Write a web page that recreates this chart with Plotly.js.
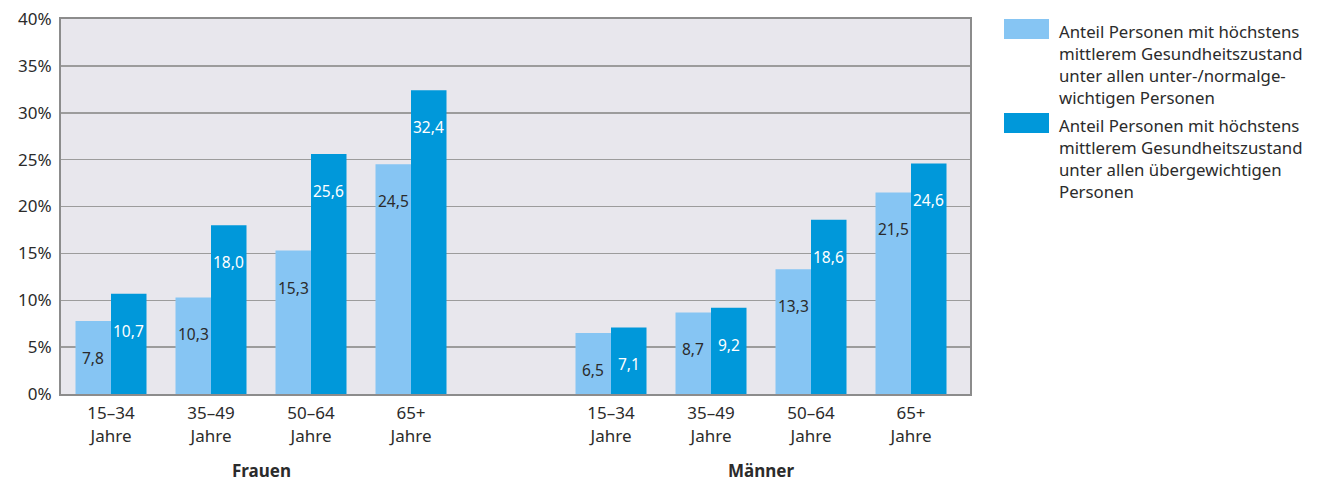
<!DOCTYPE html>
<html>
<head>
<meta charset="utf-8">
<script src="https://cdn.plot.ly/plotly-3.0.1.min.js"></script>
<style>html,body{margin:0;padding:0;background:#fff;}#chart{width:1319px;height:481px;}</style>
</head>
<body>
<div id="chart"></div>
<script>
// Data
const ageGroups = ["15–34<br>Jahre", "35–49<br>Jahre", "50–64<br>Jahre", "65+<br>Jahre"];
const sexes = ["Frauen", "Männer"];
const frauenNormal = [7.8, 10.3, 15.3, 24.5];
const frauenUeber = [10.7, 18.0, 25.6, 32.4];
const maennerNormal = [6.5, 8.7, 13.3, 21.5];
const maennerUeber = [7.1, 9.2, 18.6, 24.6];
const seriesNames = [
  "Anteil Personen mit höchstens<br>mittlerem Gesundheitszustand<br>unter allen unter-/normalge-<br>wichtigen Personen",
  "Anteil Personen mit höchstens<br>mittlerem Gesundheitszustand<br>unter allen übergewichtigen<br>Personen"
];
const yTicks = [0, 5, 10, 15, 20, 25, 30, 35, 40];
const yTickText = ["0%", "5%", "10%", "15%", "20%", "25%", "30%", "35%", "40%"];

// Layout constants
const colLight = "#86c5f3";
const colDark = "#0098da";
const fontFam = "'Noto Sans', 'Open Sans', sans-serif";
const txtCol = "#2b2b2b";
const xPositions = [0, 1, 2, 3, 5, 6, 7, 8];
const tickText = ageGroups.concat(ageGroups);
const normalVals = frauenNormal.concat(maennerNormal);
const ueberVals = frauenUeber.concat(maennerUeber);
const bargap = 0.29;
const half = (1 - bargap) / 4;

const traces = [
  {type: "bar", x: xPositions, y: normalVals, name: seriesNames[0], marker: {color: colLight}, hoverinfo: "y"},
  {type: "bar", x: xPositions, y: ueberVals, name: seriesNames[1], marker: {color: colDark}, hoverinfo: "y"}
];

const fmt = v => v.toFixed(1).replace(".", ",");
const annotations = [];
xPositions.forEach((xp, i) => {
  annotations.push({x: xp - half, y: normalVals[i], xref: "x", yref: "y", text: fmt(normalVals[i]),
    showarrow: false, yanchor: "middle", yshift: -37, font: {family: fontFam, size: 15.5, color: txtCol}});
  annotations.push({x: xp + half, y: ueberVals[i], xref: "x", yref: "y", text: fmt(ueberVals[i]),
    showarrow: false, yanchor: "middle", yshift: -37, font: {family: fontFam, size: 15.5, color: "#ffffff"}});
});
// group labels
[1.5, 6.5].forEach((xp, i) => {
  annotations.push({x: xp, y: -0.205, xref: "x", yref: "paper", text: "<b>" + sexes[i] + "</b>",
    showarrow: false, yanchor: "middle", font: {family: fontFam, size: 17, color: txtCol}});
});

// custom legend (paper coords)
const W = 909, H = 375;
const px = p => (p - 61) / W;
const py = p => (394 - p) / H;
const shapes = [
  {type: "rect", xref: "paper", yref: "paper", x0: px(1004), x1: px(1049), y0: py(39), y1: py(19), fillcolor: colLight, line: {width: 0}},
  {type: "rect", xref: "paper", yref: "paper", x0: px(1004), x1: px(1049), y0: py(133), y1: py(113), fillcolor: colDark, line: {width: 0}}
];
annotations.push({x: px(1057), y: py(18), xref: "paper", yref: "paper", text: seriesNames[0], align: "left",
  showarrow: false, xanchor: "left", yanchor: "top", font: {family: fontFam, size: 16.8, color: txtCol}});
annotations.push({x: px(1057), y: py(112), xref: "paper", yref: "paper", text: seriesNames[1], align: "left",
  showarrow: false, xanchor: "left", yanchor: "top", font: {family: fontFam, size: 16.8, color: txtCol}});

const layout = {
  width: 1319, height: 481,
  margin: {l: 61, r: 349, t: 19, b: 87, pad: 0},
  paper_bgcolor: "#ffffff",
  plot_bgcolor: "#e8e7ed",
  barmode: "group",
  bargap: bargap,
  bargroupgap: 0,
  showlegend: false,
  font: {family: fontFam, size: 16, color: txtCol},
  xaxis: {
    range: [-0.5, 8.59], tickmode: "array", tickvals: xPositions, ticktext: tickText, ticks: "",
    showgrid: false, zeroline: false, showline: true, linecolor: "#8c8c8c", linewidth: 2, mirror: true,
    ticklabelstandoff: 3,
    tickfont: {family: fontFam, size: 17, color: txtCol}, fixedrange: true
  },
  yaxis: {
    range: [0, 40], tickmode: "array", tickvals: yTicks, ticktext: yTickText, ticks: "",
    showgrid: true, gridcolor: "#9c9c9c", gridwidth: 1.5, zeroline: false,
    showline: true, linecolor: "#8c8c8c", linewidth: 2, mirror: true,
    ticklabelstandoff: 4,
    tickfont: {family: fontFam, size: 17, color: txtCol}, fixedrange: true
  },
  annotations: annotations,
  shapes: shapes
};

Plotly.newPlot("chart", traces, layout, {displayModeBar: false, staticPlot: true});
</script>
</body>
</html>
